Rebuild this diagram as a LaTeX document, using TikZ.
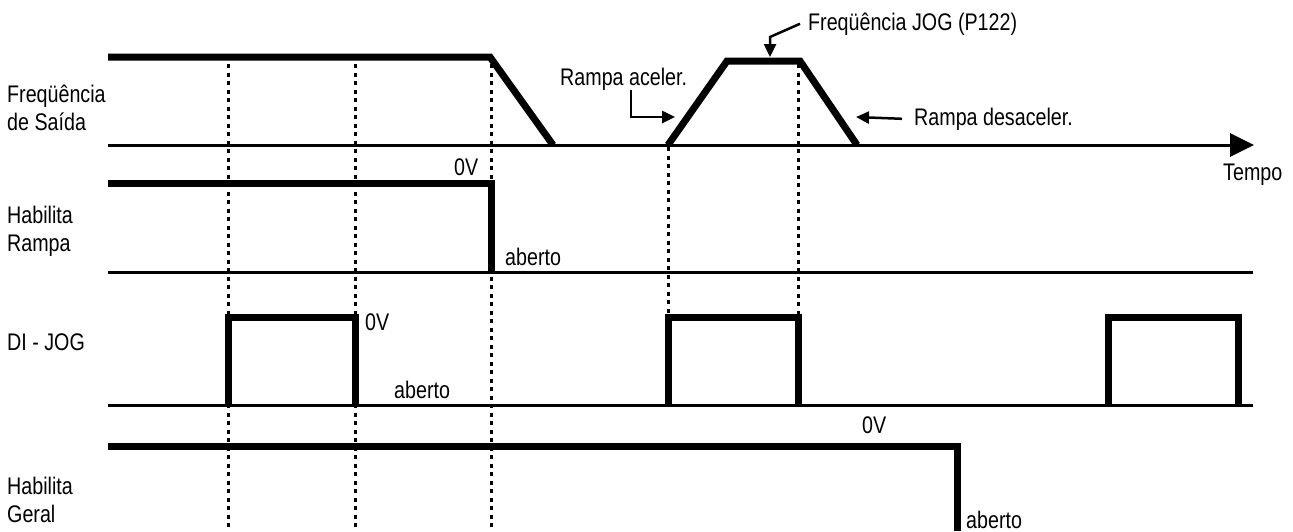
\documentclass[tikz,border=0pt]{standalone}
\usepackage{fontspec}
\setmainfont[FakeStretch=0.82]{Liberation Sans}
\usetikzlibrary{arrows.meta,positioning}

\begin{document}
\begin{tikzpicture}[x=1pt,y=-1pt,
  sig/.style={line width=7pt,line join=miter},
  eixo/.style={line width=3pt},
  guia/.style={line width=3pt,dash pattern=on 4pt off 4.5pt},
  seta/.style={line width=2.5pt,-{Triangle[length=13pt,width=12pt]}},
  txt/.style={font=\fontsize{24}{28}\selectfont,inner sep=0pt},
  rot/.style={txt,anchor=west,align=left}]
  \useasboundingbox (0,0) rectangle (1293,531);
  % linhas pontilhadas
  \foreach \x in {228,355,491} \draw[guia] (\x,64) -- (\x,531);
  \draw[guia] (668,147) -- (668,317);
  \draw[guia] (798,64) -- (798,317);
  % eixos
  \draw[eixo,-{Triangle[length=24pt,width=23pt]}] (108,145) -- (1254,145);
  \foreach \y in {272,405} \draw[eixo] (108,\y) -- (1253,\y);
  % sinais
  \draw[sig] (108,57) -- (490,57) -- (553,145);
  \draw[sig] (668,145) -- (727,61) -- (800,61) -- (857,145);
  \draw[sig] (108,183) -- (491,183) -- (491,272);
  \foreach \a/\b in {228/355,668/798,1108/1238}
    \draw[sig] (\a,405) -- (\a,317) -- (\b,317) -- (\b,405);
  \draw[sig] (108,446) -- (957,446) -- (957,531);
  % rotulos
  \node[rot] (fsai) at (7,108) {Freqüência\\de Saída};
  \node[rot] (hram) at (7,231) {Habilita\\Rampa};
  \node[txt,anchor=base west] (djog) at (7,350) {DI - JOG};
  \node[rot] (hger) at (7,500) {Habilita\\Geral};
  \node[txt,anchor=base west] (tempo) at (1223,180) {Tempo};
  \node[txt,anchor=base west] (ov1) at (454,175) {0V};
  \node[txt,anchor=base west] (ab1) at (505,265) {aberto};
  \node[txt,anchor=base west] (ov2) at (365,330) {0V};
  \node[txt,anchor=base west] (ab2) at (394,398) {aberto};
  \node[txt,anchor=base west] (ov3) at (862,433) {0V};
  \node[txt,anchor=base west] (ab3) at (966,528) {aberto};
  \node[txt,anchor=base west] (racc) at (560,85) {Rampa aceler.};
  \node[txt,anchor=base west] (rdes) at (914,125) {Rampa desaceler.};
  \node[txt,anchor=base west] (fjog) at (808,30) {Freqüência JOG (P122)};
  % setas
  \coordinate (acck) at (631,117);
  \coordinate (acct) at (675,117);
  \draw[seta] (racc.south -| acck) -- (acck) -- (acct);
  \coordinate (dest) at (856,117);
  \draw[seta] ([xshift=-12pt]rdes.west) -- (dest);
  \coordinate (jogk) at (770,37);
  \coordinate (jogt) at (770,57);
  \draw[seta] ([xshift=-8pt]fjog.west) -- (jogk) -- (jogt);
\end{tikzpicture}
\end{document}
